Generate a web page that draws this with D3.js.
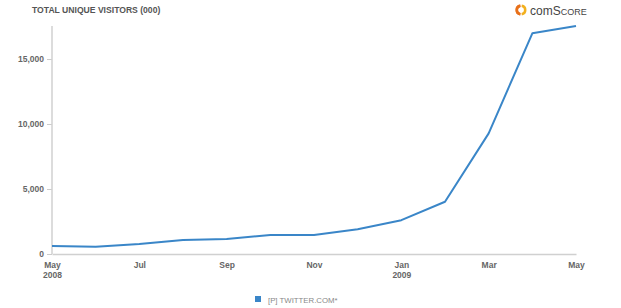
<!DOCTYPE html>
<html><head><meta charset="utf-8">
<script src="https://cdn.jsdelivr.net/npm/d3@7"></script>
<style>body{margin:0;background:#fff}svg{display:block}text{font-family:"Liberation Sans",Arial,sans-serif}</style>
</head><body><svg id="c" width="621" height="308"></svg>
<script>
const months = ["2008-05","2008-06","2008-07","2008-08","2008-09","2008-10","2008-11","2008-12","2009-01","2009-02","2009-03","2009-04","2009-05"];
const visitors = [615, 560, 770, 1080, 1150, 1460, 1460, 1900, 2600, 4020, 9280, 16980, 17540];
const yTicks = [0, 5000, 10000, 15000];
const xTickMonths = ["2008-05","2008-07","2008-09","2008-11","2009-01","2009-03","2009-05"];
const xTickLabels = [["May","2008"],["Jul"],["Sep"],["Nov"],["Jan","2009"],["Mar"],["May"]];
const seriesName = "[P] TWITTER.COM*";
const title = "TOTAL UNIQUE VISITORS (000)";

const svg = d3.select("#c");
const data = months.map((m,i)=>({m:m, v:visitors[i]}));
const x = d3.scalePoint().domain(months).range([52, 576]);
const y = d3.scaleLinear().domain([0, 17540]).range([254, 26]);

// title
svg.append("text").attr("x",32).attr("y",13).attr("font-size",8.6).attr("font-weight","bold").attr("fill","#555").text(title);

// logo
const lg = svg.append("g").attr("transform","translate(521,10)");
lg.append("path").attr("d", d3.arc()({innerRadius:3,outerRadius:5.5,startAngle:Math.PI*1.05,endAngle:Math.PI*1.95})).attr("fill","#e8701a");
lg.append("path").attr("d", d3.arc()({innerRadius:3,outerRadius:5.5,startAngle:Math.PI*0.05,endAngle:Math.PI*0.95})).attr("fill","#f2b01e");
lg.append("path").attr("d", d3.arc()({innerRadius:3,outerRadius:5.5,startAngle:-Math.PI*0.95,endAngle:-Math.PI*0.05})).attr("fill","#e8701a");
const lt = svg.append("text").attr("x",530).attr("y",14.5).attr("fill","#444").attr("font-size",12);
lt.append("tspan").text("com");
lt.append("tspan").text("S");
lt.append("tspan").attr("font-size",9).text("CORE");

// y axis
const yAxis = d3.axisLeft(y).tickValues(yTicks).tickSize(5).tickPadding(3).tickFormat(d3.format(","));
const yg = svg.append("g").attr("transform","translate(52,0)").call(yAxis);
yg.select(".domain").remove();
yg.selectAll(".tick line").attr("stroke","#ccc");
yg.selectAll(".tick text").attr("font-size",8.5).attr("font-weight","bold").attr("fill","#666").attr("font-family","Liberation Sans, Arial, sans-serif");
svg.append("line").attr("x1",52).attr("x2",52).attr("y1",y.range()[1]).attr("y2",y(0)).attr("stroke","#d0d0d0").attr("stroke-width",1.5);

// x axis
const xAxis = d3.axisBottom(x).tickValues(xTickMonths).tickSize(0).tickPadding(8).tickFormat("");
const xg = svg.append("g").attr("transform",`translate(0,${y(0)})`).call(xAxis);
xg.select(".domain").attr("stroke","#d0d0d0").attr("stroke-width",1.5);
xg.selectAll(".tick").each(function(d,i){
  const t = d3.select(this).select("text").text(null).attr("font-size",8.5).attr("font-weight","bold").attr("fill","#666").attr("font-family","Liberation Sans, Arial, sans-serif").attr("dy",null).attr("y",13);
  xTickLabels[i].forEach((s,j)=>t.append("tspan").attr("x",0).attr("y",13.5+j*10).text(s));
});

// line
svg.append("path").datum(data).attr("fill","none").attr("stroke","#3a86c8").attr("stroke-width",2)
  .attr("stroke-linejoin","round")
  .attr("d", d3.line().x(d=>x(d.m)).y(d=>y(d.v)));

// legend
svg.append("rect").attr("x",255).attr("y",296).attr("width",6).attr("height",6).attr("fill","#3a86c8");
svg.append("text").attr("x",268).attr("y",303).attr("font-size",7.8).attr("fill","#888").text(seriesName);
</script></body></html>
